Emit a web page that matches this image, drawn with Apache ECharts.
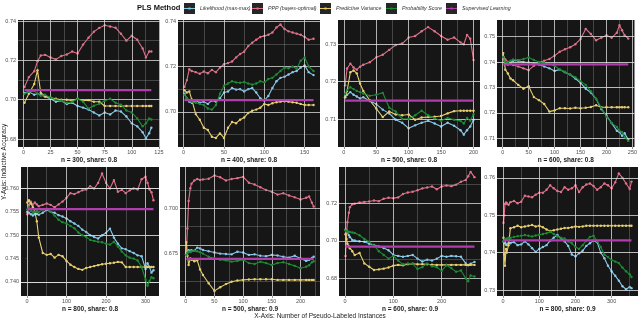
<!DOCTYPE html>
<html>
<head>
<meta charset="utf-8">
<script src="https://cdn.jsdelivr.net/npm/echarts@6/dist/echarts.min.js"></script>
<style>
  html, body { margin: 0; padding: 0; background: #fff; }
  #chart { width: 640px; height: 321px; }
</style>
</head>
<body>
<div id="chart"></div>
<script>
const methods = ['Likelihood (max-max)', 'PPP (bayes-optimal)', 'Predictive Variance', 'Probability Score', 'Supervised Learning'];
const panelTitles = ['n = 300, share: 0.8', 'n = 400, share: 0.8', 'n = 500, share: 0.8', 'n = 600, share: 0.8',
                     'n = 800, share: 0.8', 'n = 500, share: 0.9', 'n = 600, share: 0.9', 'n = 800, share: 0.9'];

// panel 1: n = 300, share 0.8
const p1X = [1,5,10,13,16,20,25,30,35,40,45,50,55,60,65,70,75,80,85,90,95,100,105,110,113,116,118];
const p1Lik = [0.7035,0.7040,0.7025,0.7030,0.7025,0.7015,0.7005,0.6990,0.6995,0.6978,
  0.6985,0.6968,0.6960,0.6950,0.6935,0.6920,0.6935,0.6925,0.6945,0.6940,
  0.6915,0.6880,0.6865,0.6835,0.6805,0.6830,0.6858];
const p1PPP = [0.7065,0.7115,0.7145,0.7195,0.7225,0.7228,0.7215,0.7205,0.7222,0.7230,
  0.7245,0.7235,0.7280,0.7315,0.7345,0.7365,0.7378,0.7372,0.7366,0.7335,
  0.7300,0.7325,0.7305,0.7260,0.7215,0.7245,0.7245];
const p1Var = [0.6985,0.7030,0.7080,0.7150,0.7035,0.7020,0.7010,0.7005,0.7000,0.7000,
  0.6995,0.7005,0.6995,0.6998,0.6990,0.6990,0.6968,0.6968,0.6968,0.6968,
  0.6968,0.6968,0.6968,0.6968,0.6968,0.6968,0.6968];
const p1Prob = [0.7030,0.7040,0.7045,0.7030,0.7020,0.7025,0.7010,0.7000,0.6995,0.6985,
  0.6990,0.7005,0.6990,0.6955,0.6970,0.6980,0.6995,0.7005,0.6985,0.6975,
  0.6945,0.6935,0.6905,0.6865,0.6880,0.6905,0.6900];
const p1Sup = 0.7049;
const p1XTicks = [0,25,50,75,100,125];
const p1YTicks = [0.68,0.70,0.72,0.74];

// panel 2: n = 400, share 0.8
const p2X = [1,4,7,10,15,20,25,30,35,40,45,50,55,60,65,70,75,80,85,90,95,100,105,110,115,120,125,130,135,140,145,150,155,161];
const p2Lik = [0.7080,0.7060,0.7045,0.7040,0.7050,0.7040,0.7045,0.7035,0.7050,0.7045,
  0.7060,0.7085,0.7090,0.7105,0.7098,0.7100,0.7090,0.7100,0.7105,0.7085,
  0.7060,0.7050,0.7070,0.7105,0.7135,0.7150,0.7155,0.7165,0.7175,0.7180,
  0.7195,0.7205,0.7175,0.7162];
const p2PPP = [0.7110,0.7140,0.7188,0.7180,0.7175,0.7168,0.7178,0.7170,0.7185,0.7175,
  0.7195,0.7210,0.7215,0.7222,0.7240,0.7255,0.7265,0.7290,0.7305,0.7318,
  0.7330,0.7335,0.7340,0.7350,0.7372,0.7385,0.7365,0.7355,0.7350,0.7345,
  0.7340,0.7330,0.7318,0.7322];
const p2Var = [0.7095,0.7085,0.7090,0.7055,0.6990,0.6965,0.6930,0.6920,0.6890,0.6885,
  0.6905,0.6885,0.6930,0.6955,0.6950,0.6965,0.6975,0.6995,0.7005,0.7010,
  0.7018,0.7035,0.7030,0.7038,0.7042,0.7045,0.7047,0.7045,0.7042,0.7040,
  0.7035,0.7030,0.7030,0.7030];
const p2Prob = [0.7075,0.7060,0.7050,0.7045,0.7040,0.7035,0.7030,0.7015,0.7010,0.7030,
  0.7080,0.7115,0.7125,0.7135,0.7130,0.7128,0.7132,0.7125,0.7120,0.7125,
  0.7135,0.7130,0.7145,0.7150,0.7165,0.7180,0.7195,0.7192,0.7200,0.7190,
  0.7225,0.7240,0.7200,0.7180];
const p2Sup = 0.7052;
const p2XTicks = [0,50,100,150];
const p2YTicks = [0.70,0.72,0.74];

// panel 3: n = 500, share 0.8
const p3X = [2,5,10,15,20,25,30,40,50,60,70,80,90,100,110,120,130,140,150,160,170,180,185,190,195,200];
const p3Lik = [0.7158,0.7165,0.7172,0.7165,0.7160,0.7155,0.7158,0.7148,0.7140,0.7125,
  0.7115,0.7098,0.7090,0.7075,0.7083,0.7090,0.7095,0.7088,0.7080,0.7090,
  0.7082,0.7070,0.7058,0.7070,0.7080,0.7098];
const p3PPP = [0.7190,0.7235,0.7248,0.7238,0.7232,0.7240,0.7245,0.7252,0.7265,0.7272,
  0.7285,0.7298,0.7302,0.7318,0.7322,0.7335,0.7346,0.7335,0.7322,0.7312,
  0.7318,0.7305,0.7300,0.7325,0.7315,0.7258];
const p3Var = [0.7158,0.7175,0.7225,0.7230,0.7222,0.7195,0.7175,0.7150,0.7128,0.7105,
  0.7120,0.7112,0.7110,0.7112,0.7098,0.7104,0.7105,0.7106,0.7108,0.7115,
  0.7121,0.7122,0.7122,0.7122,0.7122,0.7122];
const p3Prob = [0.7167,0.7178,0.7185,0.7180,0.7175,0.7172,0.7168,0.7162,0.7165,0.7170,
  0.7130,0.7120,0.7100,0.7100,0.7110,0.7122,0.7110,0.7102,0.7095,0.7103,
  0.7098,0.7095,0.7088,0.7103,0.7095,0.7113];
const p3Sup = 0.7149;
const p3XTicks = [0,50,100,150,200];
const p3YTicks = [0.71,0.72,0.73];

// panel 4: n = 600, share 0.8
const p4X = [1,5,10,15,20,30,40,50,60,70,80,90,100,110,120,130,140,150,160,170,180,190,200,210,220,225,230,235,242];
const p4Lik = [0.7420,0.7395,0.7390,0.7400,0.7405,0.7405,0.7400,0.7398,0.7395,0.7390,
  0.7382,0.7375,0.7365,0.7370,0.7360,0.7350,0.7335,0.7318,0.7295,0.7280,
  0.7255,0.7215,0.7190,0.7160,0.7130,0.7125,0.7110,0.7120,0.7095];
const p4PPP = [0.7420,0.7410,0.7400,0.7395,0.7388,0.7382,0.7375,0.7368,0.7385,0.7398,
  0.7405,0.7412,0.7425,0.7440,0.7450,0.7458,0.7470,0.7490,0.7530,0.7510,
  0.7485,0.7495,0.7505,0.7495,0.7515,0.7545,0.7525,0.7505,0.7492];
const p4Var = [0.7435,0.7370,0.7355,0.7335,0.7328,0.7310,0.7295,0.7305,0.7262,0.7250,
  0.7235,0.7205,0.7210,0.7218,0.7218,0.7217,0.7220,0.7218,0.7220,0.7223,
  0.7230,0.7222,0.7222,0.7222,0.7222,0.7222,0.7222,0.7222,0.7222];
const p4Prob = [0.7420,0.7400,0.7398,0.7405,0.7410,0.7408,0.7412,0.7418,0.7408,0.7400,
  0.7395,0.7392,0.7385,0.7370,0.7362,0.7350,0.7340,0.7325,0.7310,0.7285,
  0.7255,0.7220,0.7185,0.7160,0.7145,0.7130,0.7125,0.7105,0.7090];
const p4Sup = 0.7391;
const p4XTicks = [0,50,100,150,200,250];
const p4YTicks = [0.71,0.72,0.73,0.74,0.75];

// panel 5: n = 800, share 0.8
const p5X = [1,5,10,15,20,25,30,40,50,60,70,80,90,100,110,120,130,140,150,160,170,180,190,200,210,220,230,240,250,260,270,280,290,300,305,310,315,320];
const p5Lik = [0.7550,0.7548,0.7545,0.7542,0.7545,0.7546,0.7544,0.7548,0.7554,0.7550,
  0.7548,0.7543,0.7540,0.7536,0.7530,0.7525,0.7520,0.7512,0.7507,0.7500,
  0.7496,0.7493,0.7500,0.7505,0.7514,0.7495,0.7482,0.7472,0.7470,0.7466,
  0.7462,0.7457,0.7455,0.7428,0.7440,0.7432,0.7420,0.7425];
const p5PPP = [0.7545,0.7565,0.7572,0.7565,0.7570,0.7566,0.7562,0.7565,0.7568,0.7565,
  0.7560,0.7566,0.7572,0.7580,0.7590,0.7588,0.7592,0.7596,0.7598,0.7605,
  0.7600,0.7612,0.7632,0.7612,0.7600,0.7618,0.7593,0.7597,0.7590,0.7596,
  0.7600,0.7598,0.7620,0.7625,0.7612,0.7598,0.7592,0.7575];
const p5Var = [0.7570,0.7575,0.7568,0.7560,0.7550,0.7530,0.7495,0.7462,0.7458,0.7460,
  0.7452,0.7458,0.7455,0.7445,0.7437,0.7432,0.7428,0.7426,0.7430,0.7432,
  0.7434,0.7436,0.7438,0.7439,0.7440,0.7441,0.7443,0.7442,0.7432,0.7432,
  0.7432,0.7432,0.7432,0.7432,0.7432,0.7432,0.7432,0.7432];
const p5Prob = [0.7555,0.7560,0.7552,0.7548,0.7550,0.7552,0.7550,0.7555,0.7557,0.7550,
  0.7542,0.7533,0.7528,0.7525,0.7520,0.7515,0.7506,0.7500,0.7496,0.7490,
  0.7488,0.7486,0.7485,0.7482,0.7480,0.7486,0.7476,0.7465,0.7457,0.7452,
  0.7450,0.7446,0.7432,0.7405,0.7392,0.7402,0.7410,0.7408];
const p5Sup = 0.7556;
const p5XTicks = [0,100,200,300];
const p5YTicks = [0.740,0.745,0.750,0.755,0.760];

// panel 6: n = 500, share 0.9
const p6X = [1,3,5,8,10,15,20,25,30,40,50,60,70,80,90,100,110,120,130,140,150,160,170,180,190,200,210,215,220,223];
const p6Lik = [0.6750,0.6760,0.6770,0.6765,0.6770,0.6768,0.6785,0.6780,0.6772,0.6765,
  0.6758,0.6752,0.6750,0.6748,0.6762,0.6758,0.6745,0.6748,0.6740,0.6738,
  0.6745,0.6742,0.6735,0.6730,0.6740,0.6725,0.6712,0.6718,0.6728,0.6735];
const p6PPP = [0.6760,0.6890,0.7040,0.7110,0.7135,0.7152,0.7160,0.7155,0.7158,0.7162,
  0.7180,0.7170,0.7152,0.7160,0.7165,0.7172,0.7140,0.7130,0.7115,0.7100,
  0.7090,0.7075,0.7082,0.7070,0.7060,0.7048,0.7058,0.7065,0.7030,0.7010];
const p6Var = [0.6815,0.6740,0.6690,0.6725,0.6718,0.6710,0.6715,0.6665,0.6635,0.6590,
  0.6548,0.6568,0.6585,0.6598,0.6605,0.6608,0.6610,0.6612,0.6612,0.6612,
  0.6612,0.6608,0.6608,0.6608,0.6608,0.6608,0.6608,0.6608,0.6608,0.6608];
const p6Prob = [0.6745,0.6755,0.6762,0.6760,0.6765,0.6768,0.6765,0.6760,0.6752,0.6735,
  0.6725,0.6718,0.6715,0.6708,0.6712,0.6718,0.6700,0.6695,0.6708,0.6700,
  0.6690,0.6700,0.6705,0.6695,0.6685,0.6672,0.6680,0.6688,0.6705,0.6710];
const p6Sup = 0.6723;
const p6XTicks = [0,50,100,150,200];
const p6YTicks = [0.675,0.700];

// panel 7: n = 600, share 0.9
const p7X = [1,3,5,8,10,15,20,30,40,50,60,70,80,90,100,110,120,130,140,150,160,170,180,190,200,210,220,230,240,250,255,260,268];
const p7Lik = [0.7060,0.7055,0.7050,0.7030,0.7020,0.7005,0.7002,0.6998,0.6995,0.6985,
  0.6978,0.6970,0.6962,0.6950,0.6925,0.6920,0.6915,0.6920,0.6925,0.6905,
  0.6890,0.6900,0.6895,0.6905,0.6920,0.6915,0.6920,0.6918,0.6915,0.6880,
  0.6870,0.6878,0.6888];
const p7PPP = [0.6920,0.7040,0.7100,0.7150,0.7180,0.7195,0.7198,0.7205,0.7208,0.7210,
  0.7215,0.7212,0.7225,0.7230,0.7228,0.7232,0.7250,0.7258,0.7262,0.7270,
  0.7280,0.7285,0.7290,0.7275,0.7290,0.7295,0.7292,0.7300,0.7315,0.7325,
  0.7345,0.7368,0.7340];
const p7Var = [0.7035,0.7010,0.6985,0.6970,0.6960,0.6945,0.6925,0.6935,0.6880,0.6862,
  0.6845,0.6848,0.6852,0.6858,0.6868,0.6872,0.6870,0.6876,0.6878,0.6875,
  0.6876,0.6875,0.6873,0.6872,0.6872,0.6872,0.6872,0.6872,0.6872,0.6872,
  0.6872,0.6872,0.6872];
const p7Prob = [0.7055,0.7052,0.7050,0.7048,0.7048,0.7045,0.7042,0.7030,0.7010,0.6995,
  0.6975,0.6945,0.6925,0.6905,0.6920,0.6895,0.6875,0.6880,0.6878,0.6850,
  0.6860,0.6880,0.6865,0.6860,0.6840,0.6870,0.6855,0.6835,0.6842,0.6800,
  0.6785,0.6815,0.6810];
const p7Sup = 0.6969;
const p7XTicks = [0,100,200];
const p7YTicks = [0.68,0.70,0.72];

// panel 8: n = 800, share 0.9
const p8X = [1,3,5,8,10,15,20,30,40,50,60,70,80,90,100,110,120,130,140,150,160,170,180,190,200,210,220,230,240,250,260,270,280,290,300,310,320,330,340,350,355];
const p8Lik = [0.7430,0.7425,0.7428,0.7422,0.7420,0.7426,0.7425,0.7428,0.7420,0.7422,
  0.7430,0.7422,0.7412,0.7402,0.7410,0.7415,0.7420,0.7432,0.7440,0.7447,
  0.7438,0.7430,0.7418,0.7395,0.7390,0.7398,0.7405,0.7418,0.7425,0.7432,
  0.7428,0.7400,0.7385,0.7365,0.7350,0.7338,0.7325,0.7310,0.7302,0.7308,
  0.7305];
const p8PPP = [0.7480,0.7500,0.7530,0.7534,0.7532,0.7528,0.7535,0.7538,0.7532,0.7536,
  0.7552,0.7550,0.7548,0.7555,0.7560,0.7560,0.7568,0.7580,0.7572,0.7565,
  0.7562,0.7575,0.7568,0.7572,0.7580,0.7562,0.7575,0.7582,0.7585,0.7578,
  0.7568,0.7575,0.7585,0.7580,0.7572,0.7588,0.7612,0.7600,0.7585,0.7570,
  0.7590];
const p8Var = [0.7440,0.7395,0.7365,0.7410,0.7400,0.7420,0.7465,0.7468,0.7472,0.7468,
  0.7470,0.7472,0.7474,0.7470,0.7472,0.7468,0.7462,0.7458,0.7460,0.7462,
  0.7464,0.7466,0.7466,0.7468,0.7470,0.7469,0.7470,0.7472,0.7472,0.7472,
  0.7472,0.7472,0.7472,0.7472,0.7472,0.7472,0.7472,0.7472,0.7472,0.7472,
  0.7472];
const p8Prob = [0.7430,0.7432,0.7435,0.7436,0.7438,0.7440,0.7438,0.7442,0.7444,0.7445,
  0.7447,0.7445,0.7443,0.7446,0.7448,0.7450,0.7452,0.7456,0.7450,0.7443,
  0.7440,0.7438,0.7430,0.7425,0.7415,0.7410,0.7420,0.7432,0.7442,0.7445,
  0.7430,0.7415,0.7395,0.7388,0.7380,0.7376,0.7372,0.7360,0.7350,0.7342,
  0.7335];
const p8Sup = 0.7433;
const p8XTicks = [0,100,200,300];
const p8YTicks = [0.73,0.74,0.75,0.76];

const panels = [
  { x: p1X, ys: [p1Lik, p1PPP, p1Var, p1Prob], sup: p1Sup, xTicks: p1XTicks, yTicks: p1YTicks },
  { x: p2X, ys: [p2Lik, p2PPP, p2Var, p2Prob], sup: p2Sup, xTicks: p2XTicks, yTicks: p2YTicks },
  { x: p3X, ys: [p3Lik, p3PPP, p3Var, p3Prob], sup: p3Sup, xTicks: p3XTicks, yTicks: p3YTicks },
  { x: p4X, ys: [p4Lik, p4PPP, p4Var, p4Prob], sup: p4Sup, xTicks: p4XTicks, yTicks: p4YTicks },
  { x: p5X, ys: [p5Lik, p5PPP, p5Var, p5Prob], sup: p5Sup, xTicks: p5XTicks, yTicks: p5YTicks },
  { x: p6X, ys: [p6Lik, p6PPP, p6Var, p6Prob], sup: p6Sup, xTicks: p6XTicks, yTicks: p6YTicks },
  { x: p7X, ys: [p7Lik, p7PPP, p7Var, p7Prob], sup: p7Sup, xTicks: p7XTicks, yTicks: p7YTicks },
  { x: p8X, ys: [p8Lik, p8PPP, p8Var, p8Prob], sup: p8Sup, xTicks: p8XTicks, yTicks: p8YTicks }
];

// layout: panel boxes [left, top, width, height] and axis extents
const boxes = [
  [18, 20, 142, 127], [178, 20, 142, 127], [338, 20, 142, 127], [497, 20, 141, 127],
  [21, 167, 138, 129], [180, 167, 140, 129], [339, 167, 142, 129], [497, 167, 141, 129]
];
const xRanges = [[-5, 126], [-7, 169], [-9, 210], [-11, 254], [-15, 334], [-10, 234], [-12.5, 281.5], [-17, 373]];
const yRanges = [[0.676, 0.7405], [0.6845, 0.7405], [0.7025, 0.7365], [0.7066, 0.7565],
                 [0.737, 0.7646], [0.652, 0.7226], [0.6706, 0.7394], [0.7284, 0.7629]];
const yDigits = [2, 2, 2, 2, 3, 3, 2, 2];

const colors = ['#88c9ea', '#df7189', '#e7cf70', '#1d8b35', '#b03dab'];
const panelBg = '#161616';
const fontFam = 'Liberation Sans, Arial, sans-serif';
const majorLine = { color: 'rgba(225,225,225,0.85)', width: 0.9, type: 'solid' };
const minorLine = { color: 'rgba(150,150,150,0.75)', width: 0.5, type: 'solid' };

function minorOf(ticks, lo, hi) {
  const step = ticks[1] - ticks[0];
  const out = [];
  ticks.forEach(t => {
    [t - step / 2, t + step / 2].forEach(m => {
      if (m > lo && m < hi && !out.some(q => Math.abs(q - m) < step * 1e-3)) out.push(m);
    });
  });
  return out;
}

const grids = [], xAxes = [], yAxes = [], series = [];
panels.forEach((p, i) => {
  const [l, t, w, h] = boxes[i];
  grids.push({ left: l, top: t, width: w, height: h, show: true, backgroundColor: panelBg, borderWidth: 0 });
  xAxes.push({
    type: 'value', gridIndex: i, min: xRanges[i][0], max: xRanges[i][1],
    axisLine: { show: false }, splitLine: { show: false },
    axisTick: { show: true, customValues: p.xTicks, length: 2, lineStyle: { color: '#444', width: 0.6 } },
    axisLabel: { customValues: p.xTicks, fontSize: 5.5, color: '#4d4d4d', margin: 2.5, fontFamily: fontFam },
    name: panelTitles[i], nameLocation: 'middle', nameGap: 8,
    nameTextStyle: { fontSize: 6.5, fontWeight: 'bold', color: '#1a1a1a', fontFamily: fontFam }
  });
  yAxes.push({
    type: 'value', gridIndex: i, min: yRanges[i][0], max: yRanges[i][1],
    axisLine: { show: false }, splitLine: { show: false },
    axisTick: { show: true, customValues: p.yTicks, length: 2, lineStyle: { color: '#444', width: 0.6 } },
    axisLabel: { customValues: p.yTicks, fontSize: 5.5, color: '#4d4d4d', margin: 2, fontFamily: fontFam,
                 formatter: v => v.toFixed(yDigits[i]) }
  });

  // grid lines of the dark panel
  const xs = p.xTicks.filter(v => v >= xRanges[i][0] && v <= xRanges[i][1]);
  const ysT = p.yTicks.filter(v => v >= yRanges[i][0] && v <= yRanges[i][1]);
  const lines = []
    .concat(minorOf(p.xTicks, xRanges[i][0], xRanges[i][1]).map(v => ({ xAxis: v, lineStyle: minorLine })))
    .concat(minorOf(p.yTicks, yRanges[i][0], yRanges[i][1]).map(v => ({ yAxis: v, lineStyle: minorLine })))
    .concat(xs.map(v => ({ xAxis: v, lineStyle: majorLine })))
    .concat(ysT.map(v => ({ yAxis: v, lineStyle: majorLine })));
  series.push({
    type: 'line', name: 'grid' + i, xAxisIndex: i, yAxisIndex: i, data: [], z: 1, silent: true,
    markLine: { silent: true, symbol: ['none', 'none'], label: { show: false }, animation: false, data: lines }
  });

  p.ys.forEach((arr, k) => {
    series.push({
      type: 'line', name: methods[k], xAxisIndex: i, yAxisIndex: i, z: 3 + k,
      data: p.x.map((xv, j) => [xv, arr[j]]),
      symbol: 'circle', symbolSize: 2.4, showSymbol: true,
      itemStyle: { color: colors[k] },
      lineStyle: { color: colors[k], width: 1.1 },
      emphasis: { disabled: true }
    });
  });
  series.push({
    type: 'line', name: methods[4], xAxisIndex: i, yAxisIndex: i, z: 8,
    data: [[p.x[0], p.sup], [p.x[p.x.length - 1], p.sup]],
    symbol: 'none', itemStyle: { color: colors[4] },
    lineStyle: { color: colors[4], width: 2.2 },
    emphasis: { disabled: true }
  });
});

// legend
const keyLefts = [184, 252, 320, 386, 446];
const keyIcon = 'path://M0,0h0.01v0.01h-0.01z M0,5.1h11v0.8h-11z M4.5,4.5h2v2h-2z M10.99,10.99h0.01v0.01h-0.01z';
const legends = methods.map((m, k) => ({
  data: [m], left: keyLefts[k], top: 3, padding: 0, itemWidth: 11, itemHeight: 11, z: 10,
  icon: keyIcon, selectedMode: false,
  textStyle: { fontSize: 5.3, fontStyle: 'italic', color: '#333', fontFamily: fontFam }
}));
const graphics = [
  { type: 'text', left: 137, top: 4, z: 10,
    style: { text: 'PLS Method', fontSize: 7.5, fontWeight: 'bold', fill: '#111', fontFamily: fontFam } }
].concat(keyLefts.map(x => ({ type: 'rect', left: x, top: 3, z: 1, shape: { width: 11, height: 11 }, style: { fill: '#262626' } })))
 .concat([
  { type: 'text', left: 'center', top: 313, z: 10,
    style: { text: 'X-Axis: Number of Pseudo-Labeled Instances', fontSize: 6.5, fill: '#1a1a1a', fontFamily: fontFam } },
  { type: 'text', x: 1, y: 200, rotation: Math.PI / 2, z: 10,
    style: { text: 'Y-Axis: Inductive Accuracy', fontSize: 6.5, fill: '#1a1a1a', fontFamily: fontFam,
             textAlign: 'left', textVerticalAlign: 'top' } }
]);

const chart = echarts.init(document.getElementById('chart'), null, { renderer: 'canvas' });
chart.setOption({
  animation: false,
  backgroundColor: '#ffffff',
  grid: grids, xAxis: xAxes, yAxis: yAxes,
  legend: legends,
  graphic: graphics,
  series: series
});
</script>
</body>
</html>
